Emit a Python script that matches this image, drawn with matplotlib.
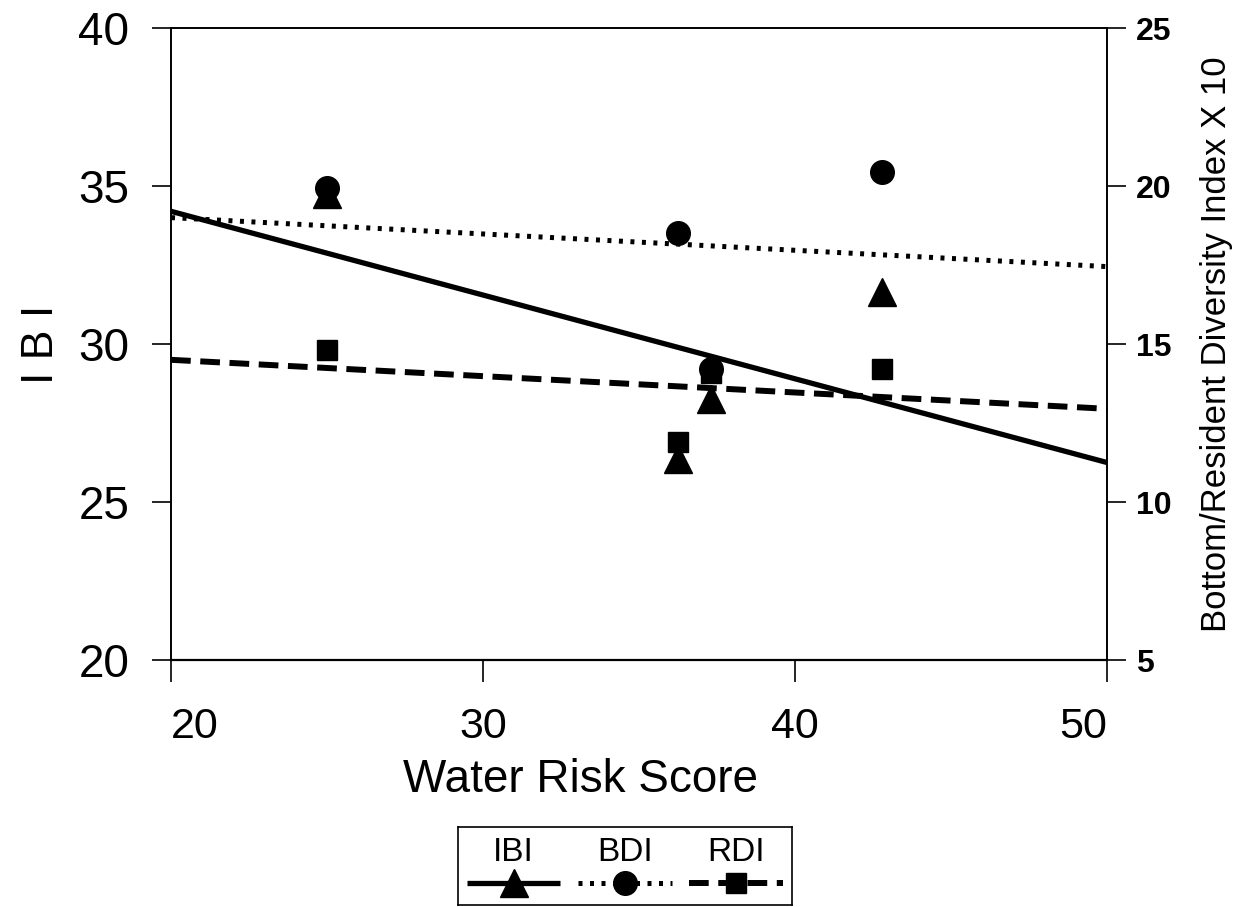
import matplotlib.pyplot as plt
from matplotlib.lines import Line2D

plt.rcParams['font.family'] = ['Liberation Sans', 'DejaVu Sans']

# observed values at each site
water_risk = [25.0, 36.25, 37.3, 42.8]
ibi = [34.75, 26.35, 28.25, 31.65]
bdi = [19.95, 18.5, 14.2, 20.45]   # x 10
rdi = [14.8, 11.9, 14.08, 14.2]    # x 10

# regression lines over the plotted range
fit_x = [20, 50]
ibi_fit = [34.2, 26.25]
bdi_fit = [19.0, 17.45]
rdi_fit = [14.5, 12.95]

xticks = [20, 30, 40, 50]
ibi_ticks = [20, 25, 30, 35, 40]
di_ticks = [5, 10, 15, 20, 25]

DOT = (0, (0.8, 1.5))
DASH = (0, (3.3, 1.6))

fig = plt.figure(figsize=(12.43, 9.07), dpi=100)
ax = fig.add_axes([0.1376, 0.2723, 0.7530, 0.6968])
ax2 = ax.twinx()

ax.plot(fit_x, ibi_fit, color='black', lw=3.8, solid_capstyle='butt', zorder=2)
ax.plot(water_risk, ibi, ls='none', marker='^', ms=20, color='black', zorder=4)

ax2.plot(fit_x, bdi_fit, color='black', lw=3.6, ls=DOT, zorder=2)
ax2.plot(fit_x, rdi_fit, color='black', lw=4.3, ls=DASH, zorder=2)
ax2.plot(water_risk, bdi, ls='none', marker='o', ms=17, color='black', zorder=4)
ax2.plot(water_risk, rdi, ls='none', marker='s', ms=15, color='black', zorder=5)

ax.set_xlim(20, 50)
ax.set_ylim(20, 40)
ax2.set_ylim(5, 25)
ax.set_xticks(xticks)
ax.set_yticks(ibi_ticks)
ax2.set_yticks(di_ticks)

for a in (ax, ax2):
    for s in a.spines.values():
        s.set_linewidth(1.2)
ax.spines['bottom'].set_linewidth(1.6)

ax.tick_params(axis='x', direction='out', length=16, width=1.2, pad=18, labelsize=31)
ax.tick_params(axis='y', direction='out', length=14, width=1.2, pad=16, labelsize=33)
ax2.tick_params(axis='y', direction='out', length=14, width=1.2, pad=7, labelsize=23)
for lab in ax2.get_yticklabels():
    lab.set_fontweight('bold')
xlabels = ax.get_xticklabels()
xlabels[0].set_horizontalalignment('left')
xlabels[-1].set_horizontalalignment('right')

ax.set_xlabel('Water Risk Score', fontsize=33)
ax.xaxis.set_label_coords(0.437, -0.155)
ax.set_ylabel('I B I', fontsize=32, labelpad=12)
ax2.set_ylabel('Bottom/Resident Diversity Index X 10', fontsize=25, labelpad=20)

# legend box: names above line samples
lg = fig.add_axes([0.3685, 0.002, 0.2685, 0.086])
lg.set_xlim(0, 3)
lg.set_ylim(0, 1)
lg.set_xticks([])
lg.set_yticks([])
for s in lg.spines.values():
    s.set_linewidth(1.2)

entries = [
    ('IBI', '-', '^', 3.8, 20),
    ('BDI', DOT, 'o', 3.6, 17),
    ('RDI', DASH, 's', 4.3, 15),
]
for i, (name, ls, mk, lw, ms) in enumerate(entries):
    cx = i + 0.5
    lg.add_line(Line2D([cx - 0.42, cx + 0.42], [0.28, 0.28], color='black',
                       lw=lw, ls=ls, solid_capstyle='butt'))
    lg.plot([cx], [0.28], marker=mk, ms=ms, color='black', ls='none')
    lg.text(cx, 0.68, name, ha='center', va='center', fontsize=24)

fig.savefig('out.png', dpi=100)
